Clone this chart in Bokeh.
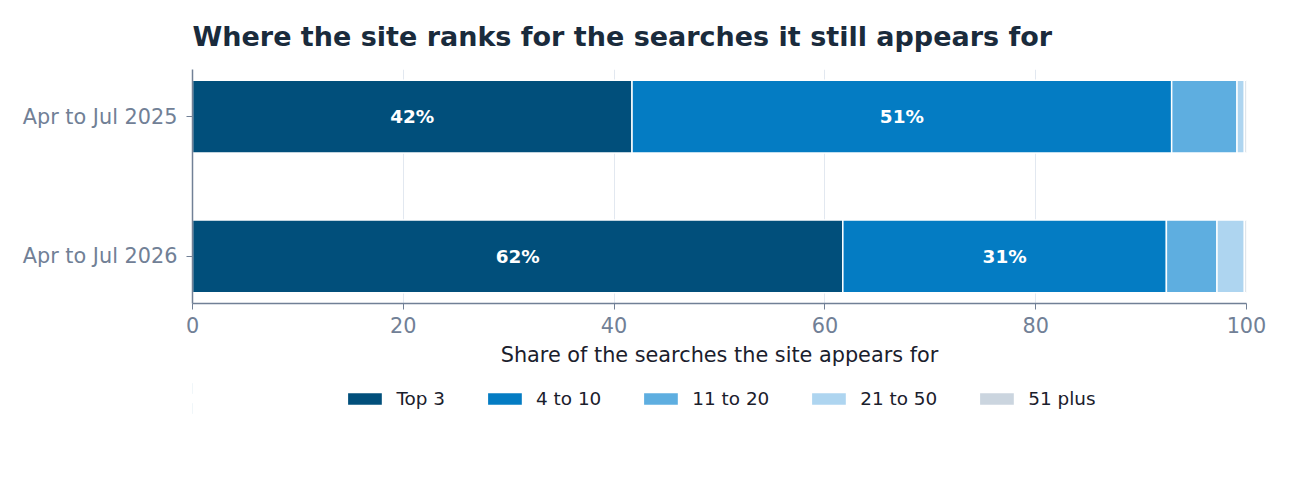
from bokeh.plotting import figure
from bokeh.layouts import column
from bokeh.models import ColumnDataSource, FactorRange, Legend, LegendItem
from bokeh.core.properties import value
from bokeh.embed import file_html
from bokeh.resources import INLINE

periods = ["Apr to Jul 2025", "Apr to Jul 2026"]
buckets = ["Top 3", "4 to 10", "11 to 20", "21 to 50", "51 plus"]
top_3 = [41.7, 61.7]
pos_4_10 = [51.2, 30.7]
pos_11_20 = [6.2, 4.8]
pos_21_50 = [0.7, 2.6]
pos_51_plus = [0.2, 0.2]
x_ticks = [0, 20, 40, 60, 80, 100]

colors = ["#014f7b", "#047cc3", "#5eaee0", "#aed5f0", "#cbd5df"]
keys = ["top_3", "pos_4_10", "pos_11_20", "pos_21_50", "pos_51_plus"]

source = ColumnDataSource(data=dict(
    period=periods,
    top_3=top_3,
    pos_4_10=pos_4_10,
    pos_11_20=pos_11_20,
    pos_21_50=pos_21_50,
    pos_51_plus=pos_51_plus,
))

FONT = "DejaVu Sans"

p = figure(
    y_range=FactorRange(factors=periods[::-1], range_padding=-0.164,
                        range_padding_units="absolute"),
    x_range=(0, 100),
    width=1282,
    height=378,
    min_border_left=192,
    min_border_right=34,
    min_border_top=69,
    min_border_bottom=75,
    title="Where the site ranks for the searches it still appears for",
    output_backend="svg",
    toolbar_location=None,
)

bars = p.hbar_stack(
    keys,
    y="period",
    height=0.52,
    color=colors,
    line_color="white",
    line_width=1.5,
    source=source,
)

# labels on the two big segments
lab_x, lab_y, lab_t = [], [], []
for i, period in enumerate(periods):
    left = 0.0
    for vals in (top_3, pos_4_10, pos_11_20, pos_21_50, pos_51_plus):
        v = vals[i]
        if v >= 10:
            lab_x.append(left + v / 2)
            lab_y.append(period)
            lab_t.append(f"{round(v)}%")
        left += v
p.text(
    x=lab_x, y=lab_y, text=lab_t,
    text_color="white",
    text_font=value(FONT),
    text_font_style="bold",
    text_font_size="18.4px",
    text_align="center",
    text_baseline="middle",
)

p.title.text_font = FONT
p.title.text_font_size = "27px"
p.title.text_color = "#1a2b3c"
p.title.align = "left"
p.title.standoff = 35

p.outline_line_color = None
p.ygrid.grid_line_color = None
p.xgrid.grid_line_color = "#e2e8f0"
p.xgrid.grid_line_width = 1

p.xaxis.ticker = x_ticks
p.xaxis.axis_label = "Share of the searches the site appears for"
p.xaxis.axis_label_text_font = FONT
p.xaxis.axis_label_text_font_size = "20.8px"
p.xaxis.axis_label_text_font_style = "normal"
p.xaxis.axis_label_text_color = "#1a202c"
p.xaxis.axis_label_standoff = 7
p.xaxis.major_label_standoff = 7
p.yaxis.major_label_standoff = 9

for ax in (p.xaxis, p.yaxis):
    ax.axis_line_color = "#718096"
    ax.axis_line_width = 1.5
    ax.major_tick_line_color = "#718096"
    ax.major_tick_in = 0
    ax.major_tick_out = 6
    ax.minor_tick_line_color = None
    ax.major_label_text_font = FONT
    ax.major_label_text_font_size = "20.8px"
    ax.major_label_text_color = "#718096"

# legend strip under the chart; its bars are the same stack, scrolled out of view
lf = figure(
    y_range=FactorRange(factors=periods[::-1]),
    x_range=(200, 300),
    width=1282,
    height=40,
    min_border_left=190,
    min_border_right=36,
    min_border_top=0,
    min_border_bottom=0,
    x_axis_location=None,
    y_axis_location=None,
    output_backend="svg",
    toolbar_location=None,
)
lf.outline_line_color = None
lf.grid.grid_line_color = None

proxies = lf.hbar_stack(
    keys,
    y="period",
    height=0.52,
    color=colors,
    line_color="white",
    line_width=1.5,
    source=source,
)

legend = Legend(
    items=[LegendItem(label=b, renderers=[r]) for b, r in zip(buckets, proxies)],
    orientation="horizontal",
    location="center",
    glyph_width=44,
    glyph_height=16,
    label_standoff=10,
    spacing=37,
    margin=0,
    padding=10,
    label_text_font=FONT,
    label_text_font_size="18.4px",
    label_text_color="#1a202c",
    border_line_color=None,
    background_fill_alpha=0,
)
lf.add_layout(legend, "center")

open("out.html", "w").write(file_html(column(p, lf), INLINE))
